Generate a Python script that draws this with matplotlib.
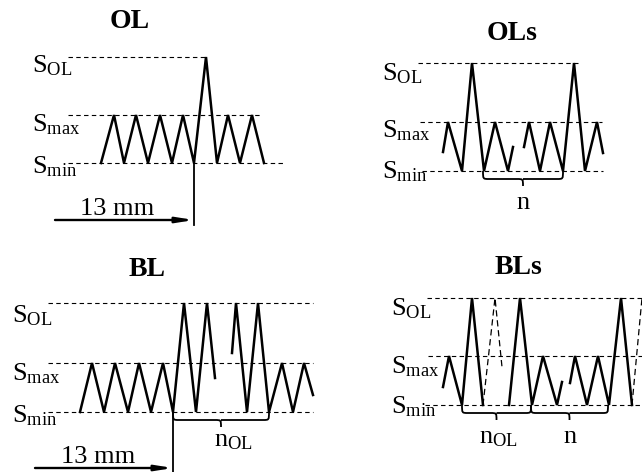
"""Load-pattern schematic: OL, OLs, BL, BLs"""

import numpy as np
import matplotlib
matplotlib.use("Agg")
import matplotlib.pyplot as plt
from matplotlib.path import Path
from matplotlib.patches import PathPatch

plt.rcParams['font.family'] = ['Liberation Serif', 'DejaVu Serif']
plt.rcParams['mathtext.fontset'] = 'custom'
plt.rcParams['mathtext.rm'] = 'Liberation Serif'
plt.rcParams['mathtext.it'] = 'Liberation Serif:italic'

# ---- data (figure pixel coordinates, y grows downward) ----
titles = ['OL', 'OLs', 'BL', 'BLs']
level_names = [r'S$_{\mathrm{OL}}$', r'S$_{\mathrm{max}}$', r'S$_{\mathrm{min}}$']

# OL
ol_levels = [57, 115, 163]
ol_wave_x = [101, 114, 124, 136, 148, 160, 172, 183, 194, 206, 217, 228, 240, 252, 264]
ol_wave_y = [163, 115, 163, 115, 163, 115, 163, 115, 163, 57, 163, 115, 163, 115, 163]

# OLs
ols_levels = [63, 122, 171]
ols_seg1_x = [443, 448, 462, 472, 484, 495, 508, 513]
ols_seg1_y = [152, 122, 171, 63, 171, 122, 171, 147]
ols_seg2_x = [524, 529, 540, 550, 563, 574, 585, 597, 603]
ols_seg2_y = [147, 122, 171, 122, 171, 63, 171, 122, 153]

# BL
bl_levels = [303, 363, 412]
bl_seg1_x = [80, 92, 104, 115, 128, 139, 151, 163, 173, 184, 196, 207, 215]
bl_seg1_y = [412, 363, 412, 363, 412, 363, 412, 363, 412, 303, 412, 303, 378]
bl_seg2_x = [232, 236, 247, 258, 269, 282, 293, 304, 313]
bl_seg2_y = [353, 303, 412, 303, 412, 363, 412, 363, 395]

# BLs
bls_levels = [298, 356, 405]
bls_seg1_x = [443, 449, 462, 472, 483]
bls_seg1_y = [387, 356, 405, 298, 405]
bls_dash1_x = [483, 495, 502]
bls_dash1_y = [405, 298, 367]
bls_seg2_x = [509, 520, 532, 543, 557, 562]
bls_seg2_y = [405, 298, 405, 356, 405, 382]
bls_seg3_x = [570, 575, 587, 598, 609, 621, 632]
bls_seg3_y = [383, 356, 405, 356, 405, 298, 405]
bls_dash2_x = [632, 642]
bls_dash2_y = [405, 298]

WAVE = dict(color='black', lw=1.8, solid_joinstyle='miter')
DASH = dict(color='black', lw=0.8, linestyle=(0, (4, 3)))
LABEL_FS = 19
TITLE_FS = 20


def draw_levels(ax, levels, x_starts, x_ends, label_x, baselines):
    for y, x0, x1, name, yb in zip(levels, x_starts, x_ends, level_names, baselines):
        ax.plot([x0, x1], [y, y], **DASH)
        ax.text(label_x, yb, name, fontsize=LABEL_FS, ha='left', va='baseline')


def brace(ax, x0, x1, y0, h1=8, h2=15, r=6):
    xm = (x0 + x1) / 2
    yh = y0 + h1
    verts = [(x0, y0), (x0, yh), (x0, yh), (x0 + r, yh),
             (xm - r, yh),
             (xm, yh), (xm, yh), (xm, y0 + h2),
             (xm, yh), (xm, yh), (xm + r, yh),
             (x1 - r, yh),
             (x1, yh), (x1, yh), (x1, y0)]
    codes = [Path.MOVETO, Path.CURVE4, Path.CURVE4, Path.CURVE4,
             Path.LINETO,
             Path.CURVE4, Path.CURVE4, Path.CURVE4,
             Path.MOVETO, Path.CURVE4, Path.CURVE4,
             Path.LINETO,
             Path.CURVE4, Path.CURVE4, Path.CURVE4]
    ax.add_patch(PathPatch(Path(verts, codes), fill=False, lw=1.3, color='black'))


def arrow_13mm(ax, x0, x1, y, text_x, text_y):
    ax.annotate('', xy=(x1, y), xytext=(x0, y),
                arrowprops=dict(arrowstyle='-|>,head_length=1.0,head_width=0.16',
                                lw=1.7, color='black', shrinkA=0, shrinkB=0))
    ax.text(text_x, text_y, '13 mm', fontsize=LABEL_FS, ha='center', va='baseline')


fig = plt.figure(figsize=(6.42, 4.72), dpi=100)
ax = fig.add_axes([0, 0, 1, 1])
ax.set_xlim(0, 642)
ax.set_ylim(472, 0)
ax.axis('off')

# OL
ax.text(130, 21, titles[0], fontsize=TITLE_FS, fontweight='bold', ha='center', va='center')
draw_levels(ax, ol_levels, [68, 68, 68], [205, 260, 285], 32, [72, 131, 173])
ax.plot(ol_wave_x, ol_wave_y, **WAVE)
ax.plot([194, 194], [163, 225], color='black', lw=1.3)
arrow_13mm(ax, 55, 194, 220, 117, 215)

# OLs
ax.text(512, 34, titles[1], fontsize=TITLE_FS, fontweight='bold', ha='center', va='center')
draw_levels(ax, ols_levels, [418, 420, 422], [580, 602, 603], 382, [80, 137, 178])
ax.plot(ols_seg1_x, ols_seg1_y, **WAVE)
ax.plot(ols_seg2_x, ols_seg2_y, **WAVE)
brace(ax, 483, 563, 171)
ax.text(523, 209, 'n', fontsize=LABEL_FS, ha='center', va='baseline')

# BL
ax.text(147, 269, titles[2], fontsize=TITLE_FS, fontweight='bold', ha='center', va='center')
draw_levels(ax, bl_levels, [48, 48, 48], [313, 313, 313], 12, [322, 380, 422])
ax.plot(bl_seg1_x, bl_seg1_y, **WAVE)
ax.plot(bl_seg2_x, bl_seg2_y, **WAVE)
ax.plot([173, 173], [412, 472], color='black', lw=1.3)
arrow_13mm(ax, 35, 173, 468, 98, 463)
brace(ax, 173, 269, 412)
ax.text(233, 446, r'n$_{\mathrm{OL}}$', fontsize=LABEL_FS, ha='center', va='baseline')

# BLs
ax.text(518, 268, titles[3], fontsize=TITLE_FS, fontweight='bold', ha='center', va='center')
draw_levels(ax, bls_levels, [427, 428, 425], [642, 642, 642], 391, [315, 373, 413])
for sx, sy in [(bls_seg1_x, bls_seg1_y), (bls_seg2_x, bls_seg2_y), (bls_seg3_x, bls_seg3_y)]:
    ax.plot(sx, sy, **WAVE)
for sx, sy in [(bls_dash1_x, bls_dash1_y), (bls_dash2_x, bls_dash2_y)]:
    ax.plot(sx, sy, color='black', lw=0.9, linestyle=(0, (5, 3)))
brace(ax, 462, 531, 405)
brace(ax, 531, 608, 405)
ax.text(498, 443, r'n$_{\mathrm{OL}}$', fontsize=LABEL_FS, ha='center', va='baseline')
ax.text(570, 443, 'n', fontsize=LABEL_FS, ha='center', va='baseline')

fig.savefig('out.png', dpi=100)
plt.close(fig)
